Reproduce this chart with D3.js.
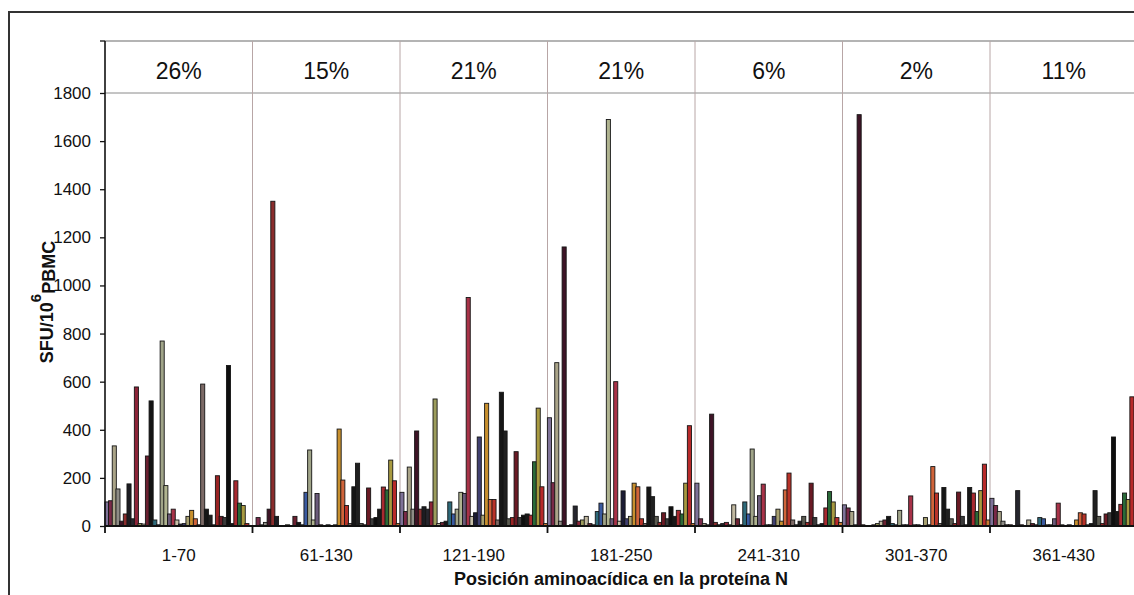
<!DOCTYPE html>
<html>
<head>
<meta charset="utf-8">
<script src="https://cdnjs.cloudflare.com/ajax/libs/d3/7.8.5/d3.min.js"></script>
<style>
  body { margin: 0; background: #fff; }
  text { font-family: "Liberation Sans", Arial, sans-serif; fill: #111; }
</style>
</head>
<body>
<script>
    // peptide pools along protein N, and % of responders per pool
    var groups = ["1-70", "61-130", "121-190", "181-250", "241-310", "301-370", "361-430"];
    var percents = ["26%", "15%", "21%", "21%", "6%", "2%", "11%"];
    var yTicks = [0, 200, 400, 600, 800, 1000, 1200, 1400, 1600, 1800];

    // one value per donor (40 donors) in each pool, SFU/10^6 PBMC
    var pool1 = [100, 105, 333, 154, 20, 50, 175, 30, 578, 10, 8, 291, 520, 25, 5, 769, 168, 50, 70, 25,
                 8, 10, 40, 65, 30, 5, 590, 70, 45, 5, 209, 40, 35, 667, 10, 188, 95, 85, 10, 0];
    var pool2 = [0, 35, 5, 15, 70, 1350, 40, 0, 0, 5, 0, 40, 15, 5, 140, 316, 25, 135, 5, 0,
                 5, 0, 5, 403, 191, 85, 10, 163, 261, 10, 5, 158, 30, 35, 70, 162, 150, 274, 188, 10];
    var pool3 = [140, 60, 245, 70, 395, 70, 80, 70, 100, 528, 10, 15, 20, 100, 50, 70, 140, 135, 950, 40,
                 55, 370, 45, 510, 110, 110, 25, 556, 395, 30, 35, 309, 35, 45, 50, 45, 267, 490, 163, 10];
    var pool4 = [450, 180, 679, 20, 1160, 0, 5, 83, 20, 25, 40, 10, 5, 60, 95, 50, 1690, 30, 600, 20,
                 146, 30, 40, 178, 163, 30, 10, 162, 122, 40, 15, 55, 30, 80, 40, 65, 50, 178, 417, 10];
    var pool5 = [178, 30, 10, 5, 465, 15, 5, 10, 15, 5, 88, 30, 5, 100, 50, 320, 40, 126, 174, 5,
                 5, 40, 70, 20, 150, 220, 25, 5, 20, 40, 15, 178, 35, 5, 10, 75, 143, 100, 35, 15];
    var pool6 = [88, 75, 60, 5, 1710, 5, 0, 0, 5, 10, 20, 25, 40, 10, 5, 65, 5, 5, 125, 5,
                 5, 0, 35, 5, 247, 137, 10, 160, 70, 30, 10, 141, 40, 5, 160, 137, 60, 147, 257, 25];
    var pool7 = [115, 85, 60, 20, 5, 5, 0, 147, 5, 0, 25, 10, 5, 35, 30, 5, 5, 30, 95, 5,
                 0, 5, 0, 25, 55, 50, 5, 10, 147, 40, 10, 50, 55, 370, 60, 90, 137, 110, 537, 0];
    var values = [pool1, pool2, pool3, pool4, pool5, pool6, pool7];

    var colors = ["#7e7298", "#7a2a48", "#aaa488", "#8e8c86", "#3e1426", "#8a2c2c", "#1c1c22", "#26262e",
                  "#8c2438", "#9c9c5c", "#c0b8a0", "#6a2030", "#141414", "#2e6a7a", "#3a5aa0", "#a0a488",
                  "#b0b490", "#6a5a7a", "#a83248", "#c8c0a8", "#1c1c34", "#404070", "#a8a070", "#c8902e",
                  "#d0643a", "#b83228", "#7c6a66", "#161616", "#202020", "#5a5a50", "#9a2424", "#6a1a24",
                  "#3a3a3a", "#0e0e0e", "#181818", "#a82a30", "#2a6a38", "#a89a40", "#b82a2a", "#c87a30"];

    var W = 1134, H = 595,
        left = 105, right = 1137.5,
        base = 526, top1800 = 93, headerTop = 41;

    var svg = d3.select("body").append("svg")
      .attr("width", W)
      .attr("height", H);

    svg.append("rect")
      .attr("width", W).attr("height", H)
      .attr("fill", "#fff");

    // outer frame of the figure
    svg.append("rect")
      .attr("x", 9).attr("y", 12)
      .attr("width", 1300).attr("height", 700)
      .attr("fill", "none")
      .attr("stroke", "#333")
      .attr("stroke-width", 2);

    var x0 = d3.scaleBand().domain(groups).range([left, right]);
    var x1 = d3.scaleBand().domain(d3.range(colors.length))
      .range([0, x0.bandwidth()]).paddingOuter(0.02);
    var y = d3.scaleLinear().domain([0, 1800]).range([base, top1800]);

    // header band with percentages
    svg.append("line")
      .attr("x1", left).attr("x2", right)
      .attr("y1", headerTop).attr("y2", headerTop)
      .attr("stroke", "#6a6a6a").attr("stroke-width", 1.2);
    svg.append("line")
      .attr("x1", left).attr("x2", right)
      .attr("y1", y(1800)).attr("y2", y(1800))
      .attr("stroke", "#8a8a8a").attr("stroke-width", 1);

    svg.selectAll(".sep")
      .data(groups.slice(1))
      .enter().append("line")
      .attr("class", "sep")
      .attr("x1", function(d) { return x0(d); })
      .attr("x2", function(d) { return x0(d); })
      .attr("y1", headerTop).attr("y2", base)
      .attr("stroke", "#b8a6a6").attr("stroke-width", 1);

    svg.selectAll(".pct")
      .data(groups)
      .enter().append("text")
      .attr("class", "pct")
      .attr("x", function(d) { return x0(d) + x0.bandwidth() / 2; })
      .attr("y", 79)
      .attr("text-anchor", "middle")
      .style("font-size", "23px")
      .text(function(d, i) { return percents[i]; });

    // bars, one cluster per pool
    var cluster = svg.selectAll(".pool")
      .data(values)
      .enter().append("g")
      .attr("class", "pool")
      .attr("transform", function(d, i) { return "translate(" + x0(groups[i]) + ",0)"; });

    cluster.selectAll("rect")
      .data(function(d) { return d; })
      .enter().append("rect")
      .attr("x", function(d, i) { return x1(i) - 0.2; })
      .attr("width", x1.bandwidth() + 0.4)
      .attr("y", function(d) { return y(d); })
      .attr("height", function(d) { return base - y(d); })
      .attr("fill", function(d, i) { return colors[i]; })
      .attr("stroke", "#151515")
      .attr("stroke-width", 0.9);

    // y axis
    var yAxis = svg.append("g")
      .attr("transform", "translate(" + left + ",0)")
      .call(d3.axisLeft(y).tickValues(yTicks).tickFormat(d3.format("d")).tickSize(5).tickPadding(9));
    yAxis.select(".domain").remove();
    yAxis.selectAll("line").attr("stroke", "#111").attr("stroke-width", 1.3);
    yAxis.selectAll("text").style("font-size", "17px").attr("fill", "#111");
    svg.append("line")
      .attr("x1", left).attr("x2", left)
      .attr("y1", headerTop).attr("y2", base)
      .attr("stroke", "#111").attr("stroke-width", 1.6);
    svg.append("line")
      .attr("x1", left - 5).attr("x2", left)
      .attr("y1", headerTop).attr("y2", headerTop)
      .attr("stroke", "#111").attr("stroke-width", 1.3);

    // x axis: baseline, ticks between pools, labels under pools
    svg.append("line")
      .attr("x1", left).attr("x2", right)
      .attr("y1", base).attr("y2", base)
      .attr("stroke", "#111").attr("stroke-width", 2);

    svg.selectAll(".xtick")
      .data(groups)
      .enter().append("line")
      .attr("class", "xtick")
      .attr("x1", function(d) { return x0(d); })
      .attr("x2", function(d) { return x0(d); })
      .attr("y1", base).attr("y2", base + 7)
      .attr("stroke", "#111").attr("stroke-width", 1.8);

    svg.selectAll(".xlab")
      .data(groups)
      .enter().append("text")
      .attr("class", "xlab")
      .attr("x", function(d) { return x0(d) + x0.bandwidth() / 2; })
      .attr("y", 561)
      .attr("text-anchor", "middle")
      .style("font-size", "17px")
      .text(function(d) { return d; });

    svg.append("text")
      .attr("x", 621)
      .attr("y", 585)
      .attr("text-anchor", "middle")
      .style("font-size", "18px")
      .style("font-weight", "bold")
      .text("Posición aminoacídica en la proteína N");

    var yTitle = svg.append("text")
      .attr("transform", "translate(53,302) rotate(-90)")
      .attr("text-anchor", "middle")
      .style("font-size", "18px")
      .style("font-weight", "bold");
    yTitle.append("tspan").text("SFU/10");
    yTitle.append("tspan").attr("dy", "-0.8em").style("font-size", "15px").text("6");
    yTitle.append("tspan").attr("dy", "0.8em").text("PBMC");
</script>
</body>
</html>
